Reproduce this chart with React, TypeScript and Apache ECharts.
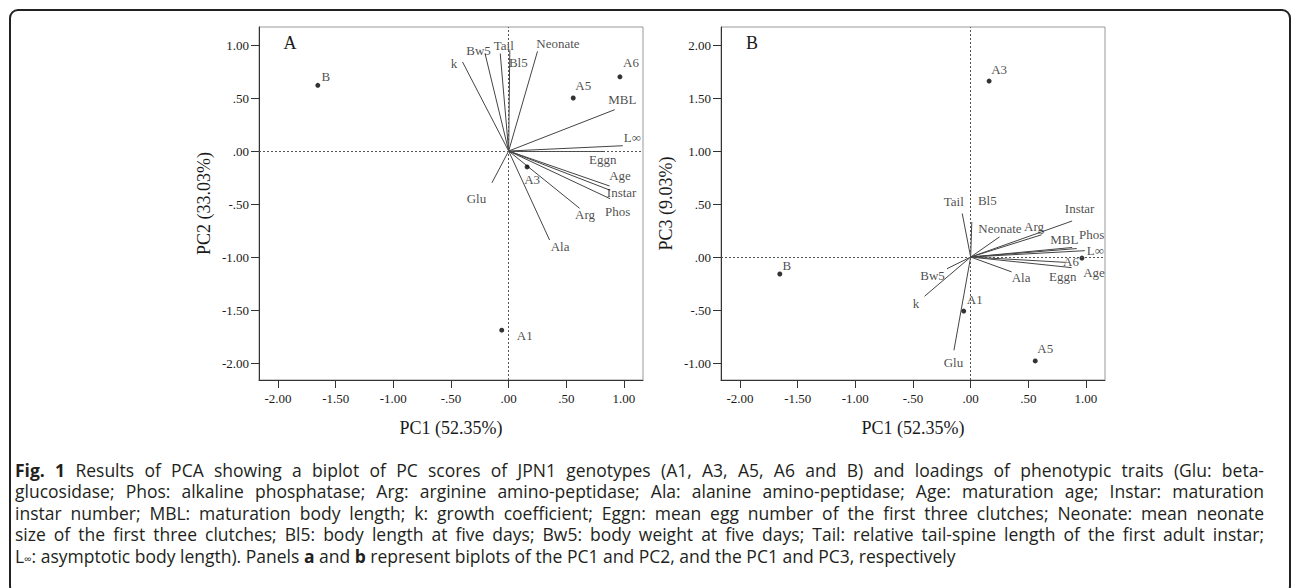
import React, { useEffect, useRef } from "react";
import * as echarts from "echarts";

// ---------- data ----------
const scoreNames = ["A1", "A3", "A5", "A6", "B"];
const pc1Scores = [-0.06, 0.16, 0.56, 0.965, -1.655];
const pc2Scores = [-1.69, -0.15, 0.5, 0.7, 0.62];
const pc3Scores = [-0.51, 1.66, -0.98, -0.01, -0.16];

const loadingNames = ["Glu", "Phos", "Arg", "Ala", "Age", "Instar", "MBL", "k", "Eggn", "Neonate", "Bl5", "Bw5", "Tail", "L∞"];
const pc1Loadings = [-0.145, 0.88, 0.615, 0.355, 0.875, 0.88, 0.92, -0.4, 0.82, 0.25, 0.01, -0.205, -0.073, 0.99];
const pc2Loadings = [-0.3, -0.45, -0.54, -0.84, -0.33, -0.37, 0.39, 0.84, 0.0, 0.94, 0.95, 0.92, 0.92, 0.05];
const pc3Loadings = [-0.88, 0.09, 0.21, -0.14, -0.1, 0.34, 0.08, -0.37, -0.05, 0.19, 0.33, -0.11, 0.41, 0.06];

const xTicks = [-2, -1.5, -1, -0.5, 0, 0.5, 1];
const yTicksA = [-2, -1.5, -1, -0.5, 0, 0.5, 1];
const yTicksB = [-1, -0.5, 0, 0.5, 1, 1.5, 2];

const xTitle = "PC1 (52.35%)";
const yTitleA = "PC2 (33.03%)";
const yTitleB = "PC3 (9.03%)";

const captionLines = [
  "Fig. 1 Results of PCA showing a biplot of PC scores of JPN1 genotypes (A1, A3, A5, A6 and B) and loadings of phenotypic traits (Glu: beta-",
  "glucosidase; Phos: alkaline phosphatase; Arg: arginine amino-peptidase; Ala: alanine amino-peptidase; Age: maturation age; Instar: maturation",
  "instar number; MBL: maturation body length; k: growth coefficient; Eggn: mean egg number of the first three clutches; Neonate: mean neonate",
  "size of the first three clutches; Bl5: body length at five days; Bw5: body weight at five days; Tail: relative tail-spine length of the first adult instar;",
  "L∞: asymptotic body length). Panels a and b represent biplots of the PC1 and PC2, and the PC1 and PC3, respectively",
];
// bold words per caption line (by word index)
const captionBold: number[][] = [[0, 1], [], [], [], [5, 7]];

// ---------- label placement (pixel offsets, style only) ----------
const scoreOffsetA: Record<string, number[]> = { A1: [23, 5], A3: [5, 13], A5: [10, -13], A6: [11, -14], B: [8, -9] };
const scoreOffsetB: Record<string, number[]> = { A1: [11, -12], A3: [10, -12], A5: [10, -12], A6: [-11, 3], B: [7, -8] };
const loadOffsetA: Record<string, number[]> = {
  Glu: [-15, 16], Phos: [8, 13], Arg: [6, 7], Ala: [11, 7], Age: [11, -10], Instar: [12, 3], MBL: [8, -10],
  k: [-8, 2], Eggn: [0, 9], Neonate: [21, -7], Bl5: [9, 13], Bw5: [-6, -3], Tail: [4, -8], "L∞": [10, -8],
};
const loadOffsetB: Record<string, number[]> = {
  Glu: [0, 13], Phos: [20, -12], Arg: [-7, -8], Ala: [10, 6], Age: [23, 5], Instar: [8, -12], MBL: [-12, -9],
  k: [-8, 8], Eggn: [-2, 15], Neonate: [1, -8], Bl5: [16, -21], Bw5: [-14, 7], Tail: [-8, -12], "L∞": [11, 0],
};

const SERIF = "'Liberation Serif', 'Times New Roman', serif";
const SANS = "'Open Sans', 'Noto Sans', sans-serif";
const INK = "#1a1a1a";
const CAP_SIZE = 17.5;
const CAP_SUB = 10.5;
const CAP_LH = 18;
const CAP_COLOR = "#231f20";

const fmt = (v: number) => {
  const s = Math.abs(v).toFixed(2);
  const t = s.startsWith("0") ? s.slice(1) : s;
  return (v < 0 ? "-" : "") + t;
};

function captionGraphics() {
  const ctx = document.createElement("canvas").getContext("2d") as CanvasRenderingContext2D;
  const measure = (t: string, bold: boolean, size = CAP_SIZE) => {
    ctx.font = `${bold ? "bold " : ""}${size}px ${SANS}`;
    return ctx.measureText(t).width;
  };
  const left = 15;
  const right = 1264;
  const firstY = 469.5;
  const step = 21.6;
  const out: any[] = [];
  captionLines.forEach((line, li) => {
    const words = line.split(" ");
    const bold = captionBold[li];
    const widths = words.map((w, wi) =>
      w.startsWith("L∞")
        ? measure("L", false) + measure("∞", false, CAP_SUB) + measure(w.slice(2), false)
        : measure(w, bold.includes(wi))
    );
    const justify = li < captionLines.length - 1;
    const total = widths.reduce((a, b) => a + b, 0);
    const gap = justify ? (right - left - total) / (words.length - 1) : measure(" ", false);
    let x = left;
    words.forEach((w, wi) => {
      const isBold = bold.includes(wi);
      const hasInf = w.startsWith("L∞");
      out.push({
        type: "text",
        x,
        y: firstY + li * step,
        silent: true,
        style: {
          text: hasInf ? "L{s|∞}" + w.slice(2) : w,
          fontFamily: SANS,
          fontSize: CAP_SIZE,
          lineHeight: CAP_LH,
          fontWeight: isBold ? "bold" : "normal",
          fill: CAP_COLOR,
          verticalAlign: "middle",
          rich: hasInf
            ? { s: { fontFamily: SANS, fontSize: CAP_SUB, lineHeight: CAP_LH, fill: CAP_COLOR, verticalAlign: "bottom" } }
            : undefined,
        },
      });
      x += widths[wi] + gap;
    });
  });
  return out;
}

function buildOption() {
  const grids = [
    { left: 259, top: 27, width: 384, height: 353 },
    { left: 721, top: 27, width: 384, height: 353 },
  ];
  const yRanges = [
    [-2.16, 1.17],
    [-1.16, 2.17],
  ];
  const yTickSets = [yTicksA, yTicksB];
  const yTitles = [yTitleA, yTitleB];
  const yLoad = [pc2Loadings, pc3Loadings];
  const yScore = [pc2Scores, pc3Scores];
  const loadOff = [loadOffsetA, loadOffsetB];
  const scoreOff = [scoreOffsetA, scoreOffsetB];

  const textStyle = { fontFamily: SERIF, fontSize: 13, color: INK };

  const xAxis = grids.map((_, p) => ({
    gridIndex: p,
    type: "value",
    min: -2.165,
    max: 1.165,
    axisLine: { show: true, onZero: false, lineStyle: { color: "#333", width: 1 } },
    axisTick: { show: true, length: 8, customValues: xTicks, lineStyle: { color: "#333" } },
    axisLabel: { customValues: xTicks, formatter: fmt, margin: 12, ...textStyle },
    splitLine: { show: false },
    name: xTitle,
    nameLocation: "middle",
    nameGap: 39,
    nameTextStyle: { fontFamily: SERIF, fontSize: 18, color: INK },
  }));

  const yAxis = grids.map((_, p) => ({
    gridIndex: p,
    type: "value",
    min: yRanges[p][0],
    max: yRanges[p][1],
    axisLine: { show: true, onZero: false, lineStyle: { color: "#333", width: 1 } },
    axisTick: { show: true, length: 8, customValues: yTickSets[p], lineStyle: { color: "#333" } },
    axisLabel: { customValues: yTickSets[p], formatter: fmt, margin: 10, ...textStyle },
    splitLine: { show: false },
    name: yTitles[p],
    nameLocation: "middle",
    nameGap: 46,
    nameTextStyle: { fontFamily: SERIF, fontSize: 18, color: INK },
  }));

  const labelBase = {
    show: true,
    position: [0, 0],
    formatter: "{b}",
    ...textStyle,
    align: "center",
    verticalAlign: "middle",
    textBorderWidth: 0,
  };

  const series: any[] = [];
  grids.forEach((_, p) => {
    series.push({
      type: "lines",
      coordinateSystem: "cartesian2d",
      xAxisIndex: p,
      yAxisIndex: p,
      silent: true,
      symbol: "none",
      lineStyle: { color: "#444", width: 1, opacity: 1 },
      data: loadingNames.map((n, i) => ({ name: n, coords: [[0, 0], [pc1Loadings[i], yLoad[p][i]]] })),
      markLine: {
        silent: true,
        symbol: "none",
        label: { show: false },
        lineStyle: { type: [2, 2], color: "#555", width: 1 },
        data: [{ xAxis: 0 }, { yAxis: 0 }],
      },
    });
    series.push({
      type: "scatter",
      xAxisIndex: p,
      yAxisIndex: p,
      silent: true,
      symbolSize: 1,
      itemStyle: { color: "rgba(0,0,0,0)" },
      label: labelBase,
      data: loadingNames.map((n, i) => ({
        name: n,
        value: [pc1Loadings[i], yLoad[p][i]],
        label: { offset: loadOff[p][n] },
      })),
    });
    series.push({
      type: "scatter",
      xAxisIndex: p,
      yAxisIndex: p,
      silent: true,
      symbolSize: 5,
      itemStyle: { color: "#000" },
      label: { ...labelBase, position: [2.5, 2.5] },
      data: scoreNames.map((n, i) => ({
        name: n,
        value: [pc1Scores[i], yScore[p][i]],
        label: { offset: scoreOff[p][n] },
      })),
    });
  });

  const graphic: any[] = [
    {
      type: "rect",
      silent: true,
      shape: { x: 10, y: 10, width: 1280, height: 584, r: 8 },
      style: { fill: "none", stroke: "#222", lineWidth: 2 },
    },
    { type: "text", x: 290, y: 43, silent: true, style: { text: "A", font: `18px ${SERIF}`, fill: INK, align: "center", verticalAlign: "middle" } },
    { type: "text", x: 752, y: 43, silent: true, style: { text: "B", font: `18px ${SERIF}`, fill: INK, align: "center", verticalAlign: "middle" } },
    ...captionGraphics(),
  ];

  return {
    animation: false,
    backgroundColor: "#fff",
    grid: grids.map((g) => ({ ...g, show: true, borderColor: "#999", borderWidth: 1, backgroundColor: "transparent" })),
    xAxis,
    yAxis,
    series,
    graphic,
  };
}

export default function App() {
  const ref = useRef<HTMLDivElement>(null);
  useEffect(() => {
    if (!ref.current) return;
    const chart = echarts.init(ref.current, undefined, { renderer: "svg" });
    chart.setOption(buildOption() as any);
    return () => chart.dispose();
  }, []);
  return <div ref={ref} style={{ position: "fixed", left: 0, top: 0, width: 1292, height: 588 }} />;
}
